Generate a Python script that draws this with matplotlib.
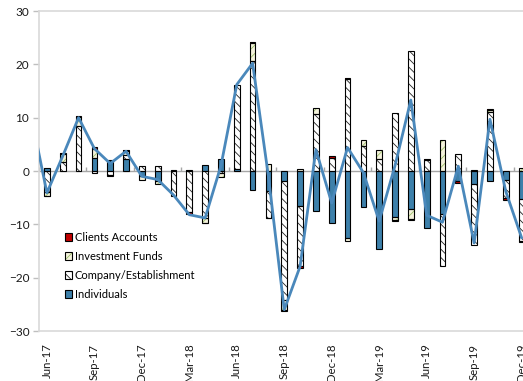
import numpy as np
import pandas as pd
import matplotlib
matplotlib.use('Agg')
import matplotlib.pyplot as plt
from matplotlib.patches import Patch
from matplotlib.legend_handler import HandlerTuple

plt.rcParams['font.family'] = ['Lato', 'DejaVu Sans']
plt.rcParams['hatch.linewidth'] = 0.6

# monthly flows, Jun-17 .. Dec-19
months = pd.date_range('2017-06-01', periods=31, freq='MS').strftime('%b-%y').tolist()

individuals = [0.6, 0.0, 0.0, 2.5, 1.8, 2.2, -1.0, -1.9, 0.2, 0.2, 1.2, 2.2, 0.4, -3.5, -3.8, -1.9,
               -6.6, -7.5, -9.7, -12.5, -6.7, -14.7, -8.6, -7.2, -10.7, -8.0, -1.9, -2.5, -1.9, -1.7, -5.2]
company = [-4.0, 1.7, 8.4, -0.3, -0.7, 0.8, 0.9, 1.0, -4.6, -7.6, -8.9, -0.3, 15.8, 20.6, -5.0, -22.2,
           -11.3, 10.6, 2.5, 17.3, 4.7, 2.3, 10.8, 22.5, 2.0, -9.9, 3.1, -11.3, 11.0, -3.3, -8.0]
funds = [-0.6, 1.5, 1.7, 1.7, -0.3, 0.8, -0.6, -0.6, 0.0, 0.0, -0.8, -0.9, 0.0, 3.4, 1.4, -1.9,
         0.3, 1.3, 0.0, -0.6, 1.1, 1.7, -0.5, -1.8, 0.0, 5.9, 0.0, 0.2, 0.4, 0.0, 0.6]
clients = [-0.1, 0.1, 0.2, 0.3, 0.2, 0.1, 0.0, 0.0, 0.0, -0.5, -0.1, 0.0, 0.0, 0.1, -0.1, -0.2,
           -0.2, 0.0, 0.3, 0.2, 0.0, 0.0, -0.3, -0.2, 0.2, 0.0, -0.4, 0.0, 0.3, -0.5, -0.2]

# net flow line (starts one month earlier, May-17)
net_may17 = 10.5
net = [-4.1, 2.8, 10.0, 4.2, 1.4, 3.7, -1.0, -1.6, -4.5, -8.2, -8.8, 1.0, 16.2, 20.2, -1.0, -26.0,
       -17.9, 4.0, -6.0, 4.4, -0.3, -9.4, 1.0, 13.3, -8.3, -9.6, 0.9, -13.5, 9.7, -3.8, -12.5]

blue = '#3d80aa'
line_blue = '#4a88bb'
cream = '#f4f2dc'
green = '#9cbf6a'
red = '#c00000'

series = [
    ('Individuals', individuals, blue, None, blue),
    ('Company/Establishment', company, 'white', '\\\\\\\\', '#222222'),
    ('Investment Funds', funds, cream, '////', green),
    ('Clients Accounts', clients, red, None, red),
]

fig = plt.figure(figsize=(5.23, 3.81), dpi=100)
ax = fig.add_axes([39 / 523, 50 / 381, 490.5 / 523, 320 / 381])

x = np.arange(len(months))
width = 0.36
pos = np.zeros(len(x))
neg = np.zeros(len(x))
for name, vals, face, hatch, hcol in series:
    v = np.array(vals)
    bottom = np.where(v >= 0, pos, neg)
    m = v != 0
    ax.bar(x[m], v[m], width, bottom=bottom[m], color=face, hatch=hatch,
           edgecolor=hcol, linewidth=0, zorder=2)
    ax.bar(x[m], v[m], width, bottom=bottom[m], fill=False,
           edgecolor='black', linewidth=0.8, zorder=3)
    pos += np.where(v > 0, v, 0)
    neg += np.where(v < 0, v, 0)

ax.plot(np.arange(-1, len(x)), [net_may17] + net, color=line_blue, lw=2.0, zorder=4)

ax.axhline(0, color='#a6a6a6', lw=1.0, zorder=1)
# category separators on the zero line
ax.vlines(np.arange(-0.5, len(x), 3), 0, 0.7, color='#a6a6a6', lw=1.0, zorder=1)

ax.set_xlim(-0.5, len(x) - 0.5)
ax.set_ylim(-30, 30)
ax.set_yticks(range(-30, 31, 10))
ax.set_xticks(x[::3])
ax.set_xticklabels(months[::3], rotation=90)
ax.tick_params(axis='x', length=0, pad=9, labelsize=8.2, colors='#1a1a1a')
ax.tick_params(axis='y', length=4, width=1, color='#bfbfbf', pad=3, labelsize=8.5, labelcolor='#1a1a1a')
for s in ['top', 'bottom', 'left']:
    ax.spines[s].set_color('#d9d9d9')
    ax.spines[s].set_linewidth(1.2)
ax.spines['right'].set_visible(False)

handles = []
labels = []
for name, vals, face, hatch, hcol in reversed(series):
    handles.append((Patch(facecolor=face, hatch=hatch, edgecolor=hcol, lw=0),
                    Patch(fill=False, edgecolor='black', lw=0.8)))
    labels.append(name)
ax.legend(handles, labels, loc='upper left', bbox_to_anchor=(59 / 523, 1 - 226 / 381),
          bbox_transform=fig.transFigure, frameon=False, fontsize=8, borderpad=0,
          handlelength=0.7, handleheight=0.7, handletextpad=0.2, labelspacing=0.72,
          handler_map={tuple: HandlerTuple(ndivide=1, pad=0)})

fig.savefig('out.png', dpi=100)
